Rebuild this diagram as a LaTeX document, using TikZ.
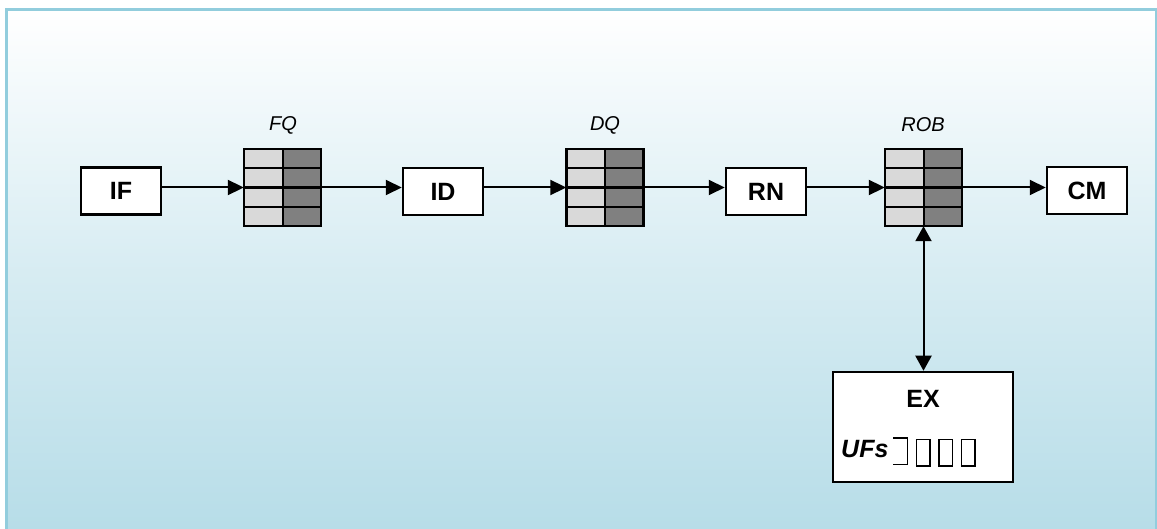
\documentclass[tikz,border=0pt]{standalone}
\usepackage{fontspec}
\setmainfont{Liberation Sans}
\usetikzlibrary{arrows.meta,calc}
\definecolor{framecol}{RGB}{146,205,221}
\definecolor{bgbot}{RGB}{183,221,232}
\definecolor{cellL}{RGB}{217,217,217}
\definecolor{cellD}{RGB}{128,128,128}
\newcommand\tofubox{\hspace{7.5pt}\raisebox{-8pt}{\fboxsep=0pt\fboxrule=1.5pt\fbox{\rule{0pt}{25pt}\hspace{12pt}}}}
\newcommand\tofuopen{\raisebox{-8pt}{\rlap{\rule{15pt}{1.5pt}}\rlap{\raisebox{26.5pt}{\rule{15pt}{1.5pt}}}\hspace{13.5pt}\rule{1.5pt}{28pt}}}
\begin{document}
\begin{tikzpicture}[x=1pt,y=-1pt,
  stagebox/.style={draw=black, line width=2.5pt, fill=white, minimum width=80pt, minimum height=47pt, inner sep=0pt, font=\fontsize{25}{29}\selectfont\bfseries},
  qbox/.style={minimum width=77pt, minimum height=77pt, inner sep=0pt},
  qlabel/.style={font=\fontsize{20}{24}\selectfont\itshape},
  conn/.style={line width=2pt, -{Triangle[length=16pt,width=15pt]}},
  dconn/.style={line width=2pt, {Triangle[length=15pt,width=16pt]}-{Triangle[length=15pt,width=16pt]}},
]
\useasboundingbox (0,0) rectangle (1157,529);
% background
\shade[top color=white, bottom color=bgbot, middle color=white!45!bgbot] (6,9.5) rectangle (1156,529);
\draw[framecol, line width=3pt] (6,545) -- (6,9.5) -- (1156,9.5) -- (1156,545);

% stages
\node[stagebox] (IF) at (121,191) {IF};
\node[stagebox] (ID) at (443,191.5) {ID};
\node[stagebox] (RN) at (766,191.5) {RN};
\node[stagebox] (CM) at (1087,190.5) {CM};

% queues
\node[qbox] (FQ) at (282.5,187.5) {};
\node[qbox] (DQ) at (605,187.5) {};
\node[qbox] (ROB) at (923.5,187.5) {};
\foreach \q in {FQ,DQ,ROB}{
  \fill[cellL] (\q.north west) rectangle (\q.south);
  \fill[cellD] (\q.north) rectangle (\q.south east);
  \foreach \k in {1,2,3}
    \draw[line width=2.5pt] ($(\q.north west)!\k/4!(\q.south west)$) -- ($(\q.north east)!\k/4!(\q.south east)$);
  \draw[line width=2pt] (\q.north) -- (\q.south);
  \draw[line width=2.5pt] (\q.north west) rectangle (\q.south east);
}
\node[qlabel] (FQl) at (283,125) {FQ};
\node[qlabel] (DQl) at (605,125) {DQ};
\node[qlabel] (ROBl) at (923,125) {ROB};

% execute box
\node[draw=black, line width=2.5pt, fill=white, minimum width=180pt, minimum height=110pt, inner sep=0pt] (EX) at (923,427) {};
\node[font=\fontsize{25}{29}\selectfont\bfseries] (EXt) at (923,399) {EX};
\node[anchor=base west, inner sep=0pt, font=\fontsize{25}{29}\selectfont] (UF) at (841,457) {\textbf{\textit{UFs}}\hspace{5pt}\tofuopen\tofubox\tofubox\tofubox};

% connectors
\draw[conn] (IF.east |- FQ.west) -- (FQ.west);
\draw[conn] (FQ.east) -- (FQ.east -| ID.west);
\draw[conn] (ID.east |- DQ.west) -- (DQ.west);
\draw[conn] (DQ.east) -- (DQ.east -| RN.west);
\draw[conn] (RN.east |- ROB.west) -- (ROB.west);
\draw[conn] (ROB.east) -- (ROB.east -| CM.west);
\draw[dconn] (ROB.south) -- (ROB.south |- EX.north);
\end{tikzpicture}
\end{document}
